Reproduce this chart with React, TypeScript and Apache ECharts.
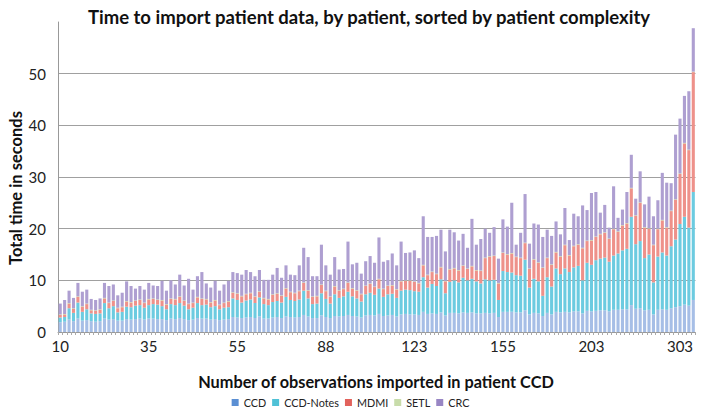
import React, { useEffect, useRef } from "react";
import * as echarts from "echarts";

const tickLabels = ["10", "35", "55", "88", "123", "155", "203", "303"];
const seriesNames = ["CCD", "CCD-Notes", "MDMI", "SETL", "CRC"];

const ccd = [
  1.9, 2.0, 2.4, 2.1, 2.6, 2.2, 2.3, 2.1, 2.0, 2.1,
  2.6, 2.4, 2.5, 2.2, 2.2, 2.5, 2.4, 2.5, 2.6, 2.4,
  2.6, 2.6, 2.5, 2.5, 2.3, 2.6, 2.5, 2.7, 2.5, 2.3,
  2.4, 2.7, 2.6, 2.6, 2.4, 2.5, 2.3, 2.4, 2.5, 2.9,
  2.8, 2.7, 2.8, 2.9, 2.7, 3.0, 2.6, 2.6,
  2.8, 2.9, 2.7, 3.0, 2.9, 2.8, 2.9, 3.3, 3.0, 2.7, 2.7, 3.2,
  2.9, 2.7, 3.1, 3.0, 3.1, 3.3, 3.1, 3.0, 2.8, 3.2, 3.3, 3.2,
  3.5, 3.1, 3.2, 3.3, 3.0, 3.4, 3.5, 3.4, 3.4, 3.3, 3.9, 3.5,
  3.6, 3.5, 3.8, 3.2, 3.7, 3.7, 3.6, 3.8, 3.7, 3.8, 3.6, 3.6,
  3.7, 3.6, 3.7, 2.9, 3.9, 3.9, 3.9, 3.8, 3.8, 4.2, 3.4, 3.7,
  3.6, 3.1, 3.7, 3.4, 3.9, 3.8, 3.9, 3.8, 4.0, 4.0, 3.6, 4.1,
  4.0, 4.1, 4.2, 4.2, 4.0, 4.3, 4.3, 4.4, 4.4, 5.2, 4.5, 4.6,
  4.2, 4.3, 3.4, 4.3, 4.4, 4.3, 4.6, 4.8, 5.0, 5.3, 5.1, 6.2,
];

const ccdNotes = [
  0.9, 0.9, 2.2, 1.6, 3.1, 1.7, 2.1, 1.5, 1.5, 1.5,
  3.0, 2.2, 2.5, 1.6, 1.7, 2.4, 2.4, 2.6, 2.6, 2.3,
  2.6, 2.8, 2.8, 2.5, 2.1, 2.8, 2.7, 2.9, 2.6, 2.1,
  2.3, 2.9, 2.6, 2.7, 2.4, 2.5, 2.1, 2.3, 2.3, 3.6,
  3.4, 3.0, 3.3, 3.4, 2.9, 3.7, 2.8, 2.6,
  3.0, 3.1, 3.0, 3.8, 3.3, 3.2, 3.4, 4.7, 3.5, 2.7, 2.8, 4.3,
  3.5, 2.8, 4.2, 3.6, 3.8, 4.5, 3.8, 3.5, 3.1, 4.1, 4.3, 4.0,
  4.9, 3.7, 4.1, 4.1, 3.6, 4.6, 4.7, 4.7, 4.5, 4.5, 6.7, 5.1,
  5.7, 5.4, 6.4, 4.3, 6.0, 6.3, 6.0, 6.7, 6.3, 6.5, 6.2, 5.8,
  6.5, 6.4, 6.4, 3.3, 7.9, 7.7, 7.6, 7.2, 7.1, 9.8, 5.2, 6.6,
  6.2, 3.9, 6.9, 5.4, 8.4, 7.4, 8.4, 7.8, 8.5, 8.8, 6.4, 9.3,
  9.0, 9.8, 10.0, 10.2, 9.6, 10.5, 10.9, 11.4, 11.7, 17.1, 12.5, 13.0,
  10.1, 10.7, 6.2, 10.3, 11.0, 10.5, 12.0, 13.1, 15.9, 17.0, 15.1, 20.9,
];

const mdmi = [
  0.5, 0.5, 0.9, 0.8, 1.1, 1.0, 1.0, 0.6, 0.6, 0.7,
  0.9, 1.0, 1.0, 0.8, 0.9, 1.0, 0.9, 0.9, 1.0, 0.9,
  1.1, 1.0, 0.9, 1.1, 0.9, 1.0, 1.1, 1.2, 0.9, 1.0,
  0.9, 1.1, 1.2, 1.0, 0.9, 1.1, 0.8, 0.9, 1.1, 1.1,
  1.2, 1.2, 1.2, 1.2, 1.2, 1.1, 1.1, 1.1,
  1.4, 1.4, 1.3, 1.6, 1.5, 1.5, 1.6, 1.5, 1.5, 1.4, 1.4, 1.6,
  1.5, 1.3, 1.5, 1.4, 1.4, 1.7, 1.5, 1.5, 1.4, 1.6, 1.7, 1.5,
  1.8, 1.5, 1.6, 1.6, 1.6, 1.8, 1.7, 1.8, 1.8, 1.6, 2.3, 2.4,
  2.3, 2.3, 2.3, 2.3, 2.4, 2.3, 2.3, 2.3, 2.2, 2.4, 2.1, 2.4,
  4.1, 4.6, 4.6, 3.2, 3.5, 3.4, 3.7, 3.5, 3.4, 3.2, 3.6, 3.7,
  3.6, 5.4, 3.7, 4.2, 3.1, 3.4, 4.5, 3.2, 4.1, 4.1, 6.2, 4.2,
  4.7, 4.5, 4.7, 4.8, 4.4, 5.1, 4.2, 4.8, 4.9, 5.5, 5.5, 7.4,
  5.9, 5.0, 7.2, 5.3, 6.2, 5.4, 6.8, 7.7, 9.7, 14.2, 15.0, 23.2,
];

const setl = [
  0.1, 0.1, 0.1, 0.1, 0.1, 0.1, 0.1, 0.1, 0.1, 0.1,
  0.1, 0.1, 0.1, 0.1, 0.1, 0.1, 0.1, 0.1, 0.1, 0.1,
  0.1, 0.1, 0.1, 0.1, 0.1, 0.1, 0.1, 0.1, 0.1, 0.1,
  0.1, 0.1, 0.1, 0.1, 0.1, 0.1, 0.1, 0.1, 0.1, 0.1,
  0.1, 0.1, 0.1, 0.1, 0.1, 0.1, 0.1, 0.1,
  0.1, 0.1, 0.1, 0.1, 0.1, 0.1, 0.1, 0.1, 0.1, 0.1, 0.1, 0.1,
  0.1, 0.1, 0.1, 0.1, 0.1, 0.1, 0.1, 0.1, 0.1, 0.1, 0.1, 0.1,
  0.1, 0.1, 0.1, 0.1, 0.1, 0.1, 0.1, 0.1, 0.1, 0.1, 0.1, 0.1,
  0.1, 0.1, 0.1, 0.1, 0.1, 0.1, 0.1, 0.1, 0.1, 0.1, 0.1, 0.1,
  0.1, 0.1, 0.1, 0.1, 0.1, 0.1, 0.1, 0.1, 0.1, 0.1, 0.1, 0.1,
  0.1, 0.1, 0.1, 0.1, 0.1, 0.1, 0.1, 0.1, 0.1, 0.1, 0.1, 0.1,
  0.1, 0.1, 0.1, 0.1, 0.1, 0.1, 0.1, 0.1, 0.1, 0.1, 0.1, 0.1,
  0.1, 0.1, 0.1, 0.1, 0.1, 0.1, 0.1, 0.1, 0.1, 0.1, 0.1, 0.1,
];

const crc = [
  2.1, 2.7, 2.4, 2.0, 2.6, 2.8, 2.7, 2.1, 2.0, 2.1,
  2.9, 3.2, 3.1, 2.4, 2.7, 3.8, 3.1, 2.3, 2.6, 2.5,
  3.1, 2.5, 2.6, 3.7, 2.6, 3.5, 2.8, 4.2, 2.9, 4.8,
  2.5, 4.0, 5.1, 3.0, 2.8, 3.7, 2.7, 3.5, 3.9, 3.9,
  3.9, 4.1, 4.6, 4.0, 3.9, 4.1, 3.5, 3.7,
  3.8, 4.9, 3.4, 4.4, 3.3, 3.4, 4.9, 6.7, 6.4, 3.9, 3.8, 7.7,
  4.9, 4.2, 5.6, 4.0, 3.8, 7.9, 4.6, 5.3, 3.9, 4.7, 5.3, 4.6,
  8.0, 5.2, 4.9, 6.1, 4.6, 7.6, 5.3, 5.4, 6.0, 4.8, 9.4, 7.3,
  6.7, 7.3, 7.2, 5.7, 7.6, 6.9, 5.7, 6.1, 4.0, 9.1, 4.9, 6.1,
  5.6, 4.5, 5.5, 4.7, 6.4, 5.3, 9.7, 2.3, 4.8, 9.4, 4.8, 6.9,
  7.3, 5.9, 5.4, 5.5, 5.9, 4.2, 7.1, 2.9, 6.2, 5.4, 8.2, 5.9,
  9.1, 8.6, 4.1, 5.3, 2.1, 8.2, 2.6, 3.0, 6.0, 6.4, 3.2, 6.0,
  4.4, 6.1, 5.5, 5.5, 9.1, 8.6, 5.3, 12.5, 10.6, 9.1, 11.3, 8.4,
];

const barColors = ["#a6bee6", "#6ccbe0", "#ee918a", "#bdd59c", "#ae9fd1"];
const legendColors = ["#5b8fd3", "#4fc1d6", "#e2625c", "#c8dcaa", "#9886c4"];

const FONT = "Lato, 'Open Sans', sans-serif";

export default function App() {
  const ref = useRef<HTMLDivElement>(null);

  useEffect(() => {
    if (!ref.current) return;
    const chart = echarts.init(ref.current, undefined, { renderer: "svg" });
    const patients = ccd.map((_, i) => String(i + 1));
    const values = [ccd, ccdNotes, mdmi, setl, crc];

    chart.setOption({
      animation: false,
      textStyle: { fontFamily: FONT },
      grid: { left: 58, right: 5.5, top: 22, bottom: 87, containLabel: false },
      graphic: [
        {
          type: "text",
          x: 369,
          y: 17,
          style: {
            text: "Time to import patient data, by patient, sorted by patient complexity",
            fontFamily: FONT,
            fontWeight: "bold",
            fontSize: 18.5,
            fill: "#111",
            textAlign: "center",
            textVerticalAlign: "middle",
          },
        },
        {
          type: "text",
          x: 376,
          y: 381,
          style: {
            text: "Number of observations imported in patient CCD",
            fontFamily: FONT,
            fontWeight: "bold",
            fontSize: 16.3,
            fill: "#111",
            textAlign: "center",
            textVerticalAlign: "middle",
          },
        },
        {
          type: "text",
          x: 16,
          y: 188,
          rotation: Math.PI / 2,
          style: {
            text: "Total time in seconds",
            fontFamily: FONT,
            fontWeight: "bold",
            fontSize: 16.5,
            fill: "#111",
            textAlign: "center",
            textVerticalAlign: "middle",
          },
        },
      ],
      legend: {
        bottom: 6,
        left: "center",
        itemWidth: 7,
        itemHeight: 7,
        itemGap: 6,
        icon: "rect",
        textStyle: { fontSize: 10.8, color: "#222", fontFamily: FONT },
        data: seriesNames.map((n, i) => ({ name: n, itemStyle: { color: legendColors[i] } })),
      },
      xAxis: {
        type: "category",
        data: patients,
        axisLine: { lineStyle: { color: "#999" } },
        axisTick: { show: true, interval: 0, length: 3, lineStyle: { color: "#aaa" } },
        axisLabel: {
          interval: 19,
          fontSize: 15,
          color: "#222",
          margin: 6,
          formatter: (_v: string, i: number) => tickLabels[i / 20] ?? "",
        },
      },
      yAxis: {
        type: "value",
        min: 0,
        max: 60,
        interval: 10,
        axisLine: { show: true, lineStyle: { color: "#999" } },
        axisTick: { show: false },
        axisLabel: { fontSize: 15, color: "#222", margin: 12, showMaxLabel: false },
        splitLine: { show: true, showMaxLine: false, lineStyle: { color: "#a0a0a0", width: 1 } },
      },
      series: seriesNames.map((n, i) => ({
        name: n,
        type: "bar",
        stack: "total",
        data: values[i],
        barCategoryGap: "30%",
        itemStyle: { color: barColors[i] },
      })),
    });
    return () => chart.dispose();
  }, []);

  return (
    <div
      ref={ref}
      style={{ position: "absolute", left: 0, top: 0, width: 701, height: 419 }}
    />
  );
}
